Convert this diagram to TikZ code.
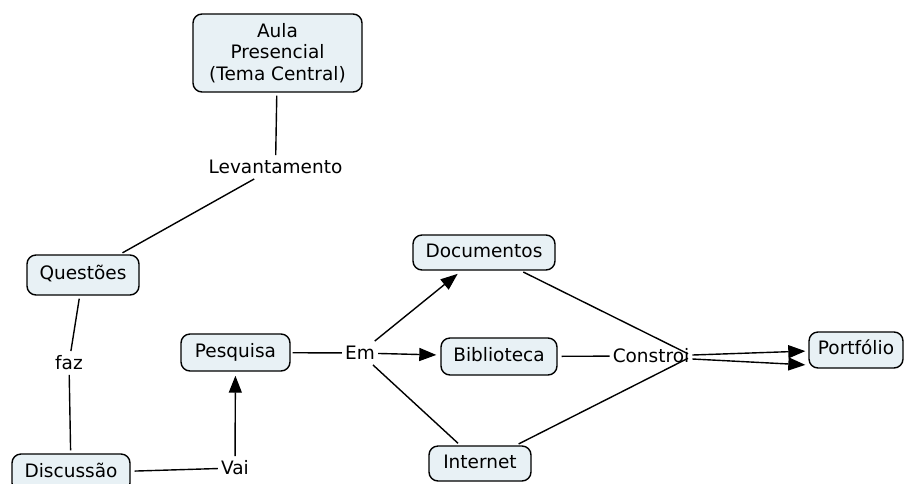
\documentclass[tikz,border=0pt]{standalone}
\usepackage{fontspec}
\setmainfont{DejaVu Sans}
\usetikzlibrary{arrows.meta}
\definecolor{boxfill}{RGB}{232,241,245}
\begin{document}
\begin{tikzpicture}[x=1pt,y=-1pt,
  concept/.style={draw=black,line width=1.4pt,fill=boxfill,rounded corners=9pt,
    font=\fontsize{18.5}{21.5}\selectfont,align=center,minimum height=37pt,
    text height=13.5pt,text depth=4pt,inner xsep=4pt},
  linkword/.style={font=\fontsize{18.5}{21.5}\selectfont,inner sep=3pt,text height=15pt,text depth=2.5pt},
  conn/.style={line width=1.4pt},
  arr/.style={line width=1.4pt,-{Triangle[length=17pt,width=13pt]}}]
\useasboundingbox (0,0) rectangle (904,483);
\fill[white] (0,0) rectangle (904,483);
% concepts
\node[concept,minimum width=169pt,minimum height=78pt,text height=,text depth=] (aula) at (277.5,53) {Aula\\Presencial\\(Tema Central)};
\node[concept,minimum width=112pt,minimum height=40pt] (quest) at (83,275) {Questões};
\node[concept,minimum width=118pt,minimum height=38pt] (disc) at (71,473) {Discussão};
\node[concept,minimum width=109pt] (pesq) at (235.5,352.5) {Pesquisa};
\node[concept,minimum width=142pt,minimum height=35pt] (docs) at (484,252.5) {Documentos};
\node[concept,minimum width=116pt] (bib) at (499,356.5) {Biblioteca};
\node[concept,minimum width=102pt,minimum height=35pt] (inet) at (480,463.5) {Internet};
\node[concept,minimum width=94pt,minimum height=36pt] (port) at (856,350) {Portfólio};
% linking words
\node[linkword] (lev) at (275.5,167) {Levantamento};
\node[linkword] (faz) at (69,363) {faz};
\node[linkword] (vai) at (235,468) {Vai};
\node[linkword] (em) at (360,353) {Em};
\node[linkword] (cons) at (651,356) {Constroi};
% connectors
\draw[conn,shorten <=3pt] (aula) -- (lev);
\draw[conn,shorten >=3pt] (lev) -- (quest);
\draw[conn,shorten <=3pt] (quest) -- (faz);
\draw[conn,shorten >=3pt] (faz) -- (disc);
\draw[conn,shorten <=4pt] (disc) -- (vai);
\draw[arr,shorten >=4pt] (vai) -- (pesq);
\draw[conn,shorten <=2pt] (pesq) -- (em);
\draw[arr,shorten >=5pt] (em) -- (docs);
\draw[arr,shorten >=4pt] (em) -- (bib);
\draw[conn,shorten >=3pt] (em) -- (inet);
\draw[conn,shorten <=3pt,shorten >=5pt] (docs) -- (cons.east);
\draw[conn,shorten <=4pt] (bib) -- (cons);
\draw[conn,shorten <=3pt,shorten >=5pt] (inet) -- (cons.east);
\draw[arr,shorten >=3pt] ([yshift=1pt]cons.east) -- ([yshift=-1pt]port.west);
\draw[arr,shorten >=3pt] ([yshift=-3pt]cons.east) -- ([yshift=-15pt]port.west);
\end{tikzpicture}
\end{document}
